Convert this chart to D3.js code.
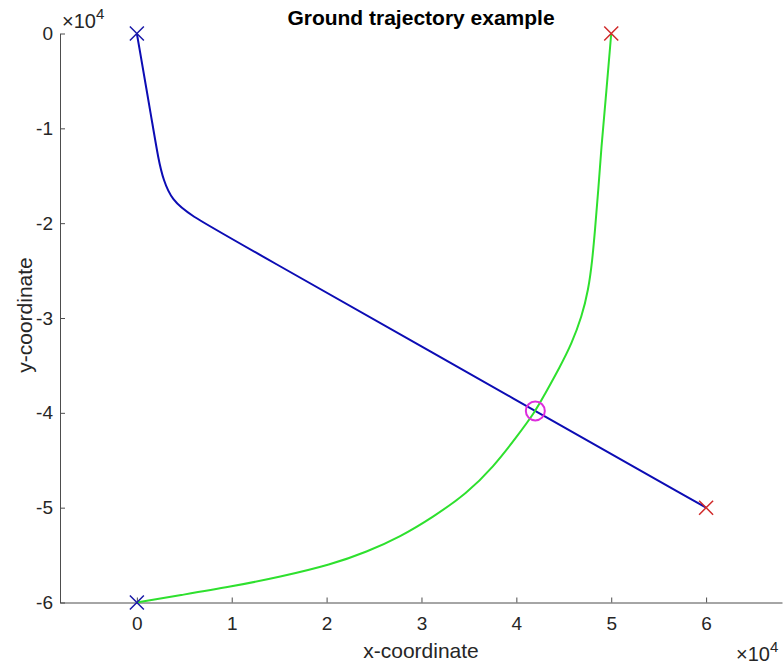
<!DOCTYPE html>
<meta charset="utf-8">
<style>
body { margin: 0; background: #fff; }
svg { display: block; }
.chart text { font-family: "Liberation Sans", Arial, sans-serif; fill: #262626; }
</style>
<svg class="chart" width="783" height="668"></svg>
<script src="https://cdn.jsdelivr.net/npm/d3@7"></script>
<script>
// values are in units of 10^4
var xTicks = [0, 1, 2, 3, 4, 5, 6];
var yTicks = [0, -1, -2, -3, -4, -5, -6];

// blue trajectory (start -> end)
var blueX = [0, 0.158, 0.228, 0.28, 0.369, 0.56, 1.018, 4.2, 6];
var blueY = [0, -0.913, -1.334, -1.545, -1.756, -1.915, -2.176, -3.98, -5];

// green trajectory (start -> end)
var greenX = [0, 0.456, 0.983, 1.51, 2.05, 2.424, 2.775, 3.125, 3.477, 3.758, 4.004, 4.197, 4.285, 4.46, 4.584, 4.689, 4.759, 4.801, 4.829, 4.864, 4.893, 4.95, 5];
var greenY = [-6, -5.923, -5.835, -5.73, -5.6, -5.466, -5.308, -5.097, -4.85, -4.57, -4.253, -3.99, -3.831, -3.515, -3.268, -2.987, -2.706, -2.389, -2.073, -1.651, -1.229, -0.6, 0];

var startPts = [[0, 0], [0, -6]];
var endPts = [[5, 0], [6, -5]];
var meetPt = [4.2, -3.98];

var chart = d3.select(".chart");

var x = d3.scaleLinear().domain([-0.81, 6.8]).range([60, 782]);
var y = d3.scaleLinear().domain([-6, 0]).range([602.5, 33.5]);

// plain integers with an ascii minus, like MATLAB
var fmt = function(d) { return String(d); };

// axes, MATLAB style ticks pointing inward
var xAxis = chart.append("g")
    .attr("transform", "translate(0," + y(-6) + ")")
    .call(d3.axisBottom(x).tickValues(xTicks).tickFormat(fmt).tickSizeInner(-5).tickSizeOuter(0).tickPadding(14));
var yAxis = chart.append("g")
    .attr("transform", "translate(" + x(-0.81) + ",0)")
    .call(d3.axisLeft(y).tickValues(yTicks).tickFormat(fmt).tickSizeInner(-5).tickSizeOuter(0).tickPadding(7));

[xAxis, yAxis].forEach(function(a) {
  a.attr("font-size", null).attr("font-family", null);
  a.select(".domain").attr("stroke", "#4d4d4d");
  a.selectAll(".tick line").attr("stroke", "#4d4d4d");
  a.selectAll(".tick text").style("font-size", "19px").attr("fill", "#262626");
});

var lineOf = function(curve) {
  return d3.line()
    .x(function(d) { return x(d[0]); })
    .y(function(d) { return y(d[1]); })
    .curve(curve);
};

chart.append("path")
    .datum(blueX.map(function(v, i) { return [v, blueY[i]]; }))
    .attr("d", lineOf(d3.curveBasis))
    .attr("fill", "none")
    .attr("stroke", "#0c0cb4")
    .attr("stroke-width", 2);

chart.append("path")
    .datum(greenX.map(function(v, i) { return [v, greenY[i]]; }))
    .attr("d", lineOf(d3.curveBasis))
    .attr("fill", "none")
    .attr("stroke", "#2ee02e")
    .attr("stroke-width", 2);

function cross(pts, color) {
  var s = 7;
  pts.forEach(function(p) {
    var cx = x(p[0]), cy = y(p[1]);
    chart.append("path")
      .attr("d", "M" + (cx - s) + "," + (cy - s) + "L" + (cx + s) + "," + (cy + s) +
                 "M" + (cx - s) + "," + (cy + s) + "L" + (cx + s) + "," + (cy - s))
      .attr("stroke", color)
      .attr("stroke-width", 1.5)
      .attr("fill", "none");
  });
}
cross(startPts, "#1a1aa8");
cross(endPts, "#d02a2a");

chart.append("circle")
    .attr("cx", x(meetPt[0]))
    .attr("cy", y(meetPt[1]))
    .attr("r", 9.5)
    .attr("fill", "none")
    .attr("stroke", "#dd2ddd")
    .attr("stroke-width", 2);

// title and labels
chart.append("text")
    .attr("x", 421).attr("y", 25)
    .attr("text-anchor", "middle")
    .style("font-size", "21px").style("font-weight", "bold")
    .style("fill", "#000")
    .text("Ground trajectory example");

chart.append("text")
    .attr("x", 421).attr("y", 658)
    .attr("text-anchor", "middle")
    .style("font-size", "21px")
    .text("x-coordinate");

chart.append("text")
    .attr("transform", "translate(32,315) rotate(-90)")
    .attr("text-anchor", "middle")
    .style("font-size", "21px")
    .text("y-coordinate");

// exponent labels
function expLabel(px, py) {
  var t = chart.append("text").attr("x", px).attr("y", py).style("font-size", "20px");
  t.append("tspan").text("\u00d710");
  t.append("tspan").attr("dy", -9).style("font-size", "15px").text("4");
}
expLabel(62, 28);
expLabel(736, 661);
</script>
